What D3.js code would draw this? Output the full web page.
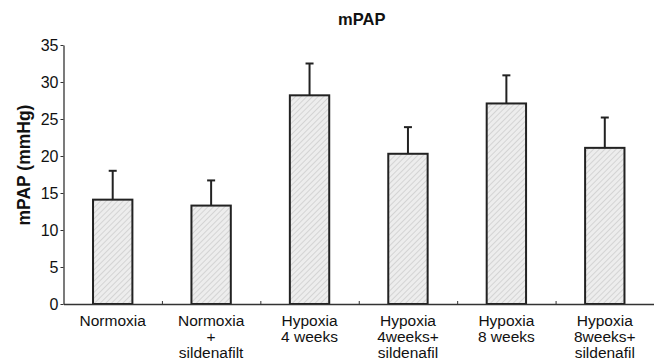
<!DOCTYPE html>
<html>
<head>
<meta charset="utf-8">
<script src="https://cdn.jsdelivr.net/npm/d3@7"></script>
<style>
  body { margin: 0; background: #fff; }
  svg { display: block; font-family: "Liberation Sans", Arial, Helvetica, sans-serif; }
</style>
</head>
<body>
<svg id="chart" width="654" height="361"></svg>
<script>
// groups, one label line per entry
var groups = [
  ["Normoxia"],
  ["Normoxia", "+", "sildenafilt"],
  ["Hypoxia", "4 weeks"],
  ["Hypoxia", "4weeks+", "sildenafil"],
  ["Hypoxia", "8 weeks"],
  ["Hypoxia", "8weeks+", "sildenafil"]
];
var means = [14.1, 13.3, 28.2, 20.3, 27.1, 21.1];
var errors = [3.9, 3.4, 4.3, 3.6, 3.8, 4.1];
var yTicks = [0, 5, 10, 15, 20, 25, 30, 35];

var svg = d3.select("#chart"),
  margin = { top: 45, right: 0, bottom: 57, left: 63.5 },
  width = +svg.attr("width") - margin.left - margin.right,
  height = +svg.attr("height") - margin.top - margin.bottom;

// diagonal hatch for the bars
var defs = svg.append("defs");
var pat = defs.append("pattern")
  .attr("id", "hatch")
  .attr("patternUnits", "userSpaceOnUse")
  .attr("width", 4)
  .attr("height", 4)
  .attr("patternTransform", "rotate(45)");
pat.append("rect").attr("width", 4).attr("height", 4).attr("fill", "#ededed");
pat.append("line")
  .attr("x1", 0).attr("y1", 0).attr("x2", 0).attr("y2", 4)
  .attr("stroke", "#c9c9c9").attr("stroke-width", 1.4);

var g = svg.append("g").attr("transform", "translate(" + margin.left + "," + margin.top + ")");

var idx = d3.range(groups.length);

var x = d3.scaleBand()
  .domain(idx)
  .range([0, width])
  .padding(0);

var xEdge = d3.scaleLinear()
  .domain([0, groups.length])
  .range([0, width]);

var y = d3.scaleLinear().domain([0, 35]).range([height, 0]);

var barW = x.bandwidth() * 0.4;

// bars
g.append("g")
  .selectAll("rect")
  .data(idx)
  .enter().append("rect")
  .attr("x", function (i) { return x(i) + (x.bandwidth() - barW) / 2; })
  .attr("y", function (i) { return y(means[i]); })
  .attr("width", barW)
  .attr("height", function (i) { return height - y(means[i]); })
  .attr("fill", "url(#hatch)")
  .attr("stroke", "#222")
  .attr("stroke-width", 2);

// error bars (upper only)
var err = g.append("g")
  .attr("stroke", "#222")
  .attr("stroke-width", 2)
  .selectAll("g")
  .data(idx)
  .enter().append("g")
  .attr("transform", function (i) { return "translate(" + (x(i) + x.bandwidth() / 2) + ",0)"; });

err.append("line")
  .attr("x1", 0).attr("x2", 0)
  .attr("y1", function (i) { return y(means[i]); })
  .attr("y2", function (i) { return y(means[i] + errors[i]); });

err.append("line")
  .attr("x1", -4).attr("x2", 4)
  .attr("y1", function (i) { return y(means[i] + errors[i]); })
  .attr("y2", function (i) { return y(means[i] + errors[i]); });

// x axis: ticks at group boundaries, pointing in
var xAxis = g.append("g")
  .attr("transform", "translate(0," + height + ")")
  .call(d3.axisBottom(xEdge).tickValues(d3.range(1, groups.length)).tickSize(-3).tickSizeOuter(0).tickFormat(""));
xAxis.select(".domain").attr("stroke", "#333").attr("stroke-width", 1.3);
xAxis.selectAll(".tick line").attr("stroke", "#333");

// category labels
var lab = g.append("g")
  .attr("font-size", 15.5)
  .attr("text-anchor", "middle")
  .attr("fill", "#111")
  .selectAll("text")
  .data(idx)
  .enter().append("text")
  .attr("x", function (i) { return x(i) + x.bandwidth() / 2; })
  .attr("y", height + 22);

lab.selectAll("tspan")
  .data(function (i) { return groups[i]; })
  .enter().append("tspan")
  .attr("x", function () { return d3.select(this.parentNode).attr("x"); })
  .attr("dy", function (d, j) { return j === 0 ? 0 : 16; })
  .text(function (d) { return d; });

// y axis
var yAxis = g.append("g")
  .call(d3.axisLeft(y).tickValues(yTicks).tickSize(3).tickPadding(2).tickSizeOuter(0));
yAxis.select(".domain").attr("stroke", "#333").attr("stroke-width", 1.3);
yAxis.selectAll(".tick line").attr("stroke", "#333");
yAxis.selectAll(".tick text")
  .attr("font-size", 16)
  .attr("font-family", "'Liberation Sans', Arial, sans-serif")
  .attr("fill", "#111");

// y label
svg.append("text")
  .attr("transform", "translate(30," + 165 + ") rotate(-90)")
  .attr("text-anchor", "middle")
  .attr("font-size", 17.5)
  .attr("font-weight", "bold")
  .attr("fill", "#111")
  .text("mPAP (mmHg)");

// title
svg.append("text")
  .attr("x", margin.left + width / 2 + 3)
  .attr("y", 25)
  .attr("text-anchor", "middle")
  .attr("font-size", 16.5)
  .attr("font-weight", "bold")
  .attr("fill", "#111")
  .text("mPAP");
</script>
</body>
</html>
